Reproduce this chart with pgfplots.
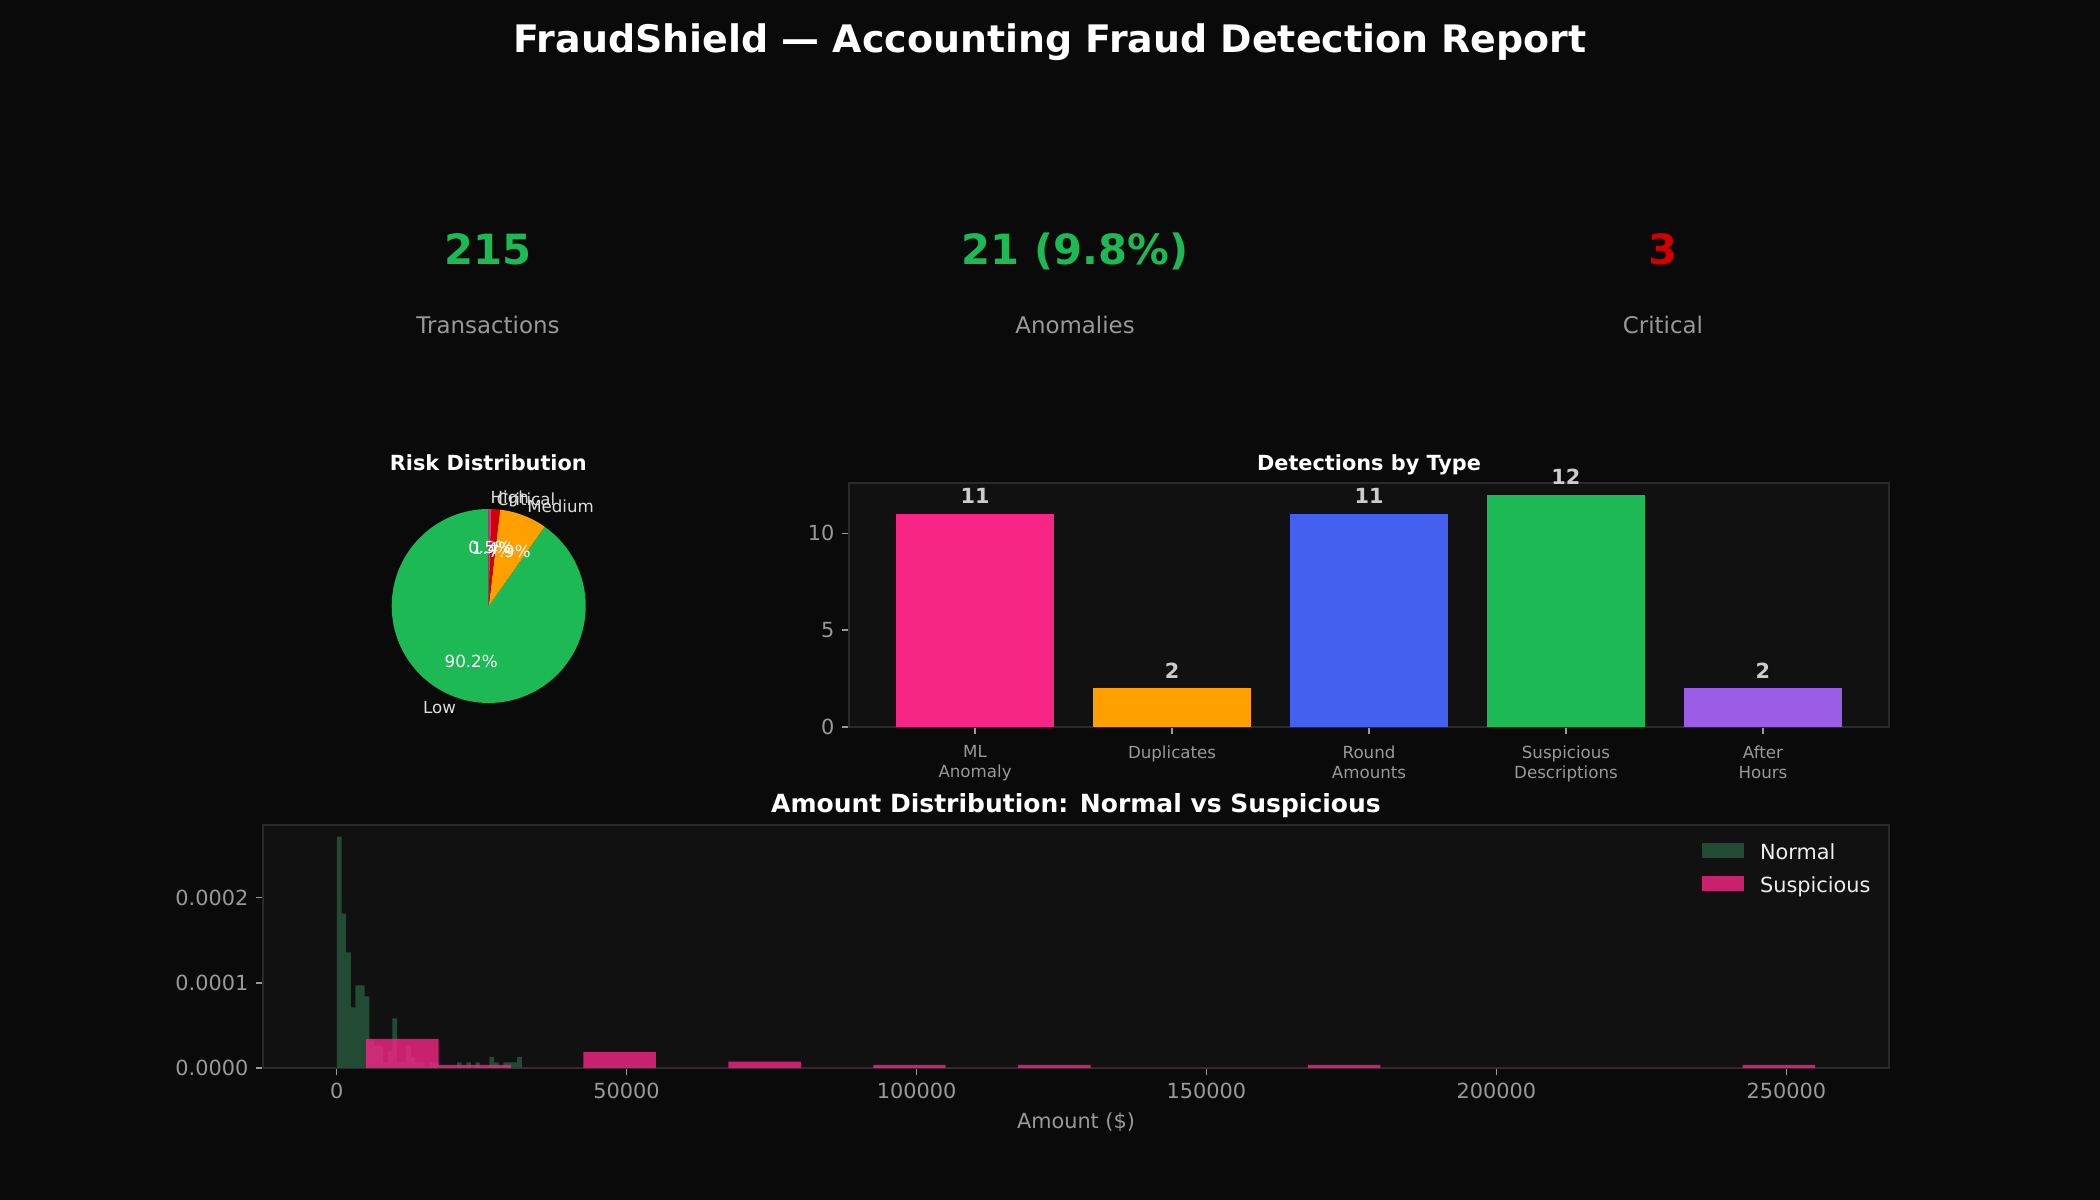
\documentclass[border=0pt]{standalone}
\usepackage{fontspec}
\setmainfont{DejaVu Sans}
\usepackage{pgfplots}
\pgfplotsset{compat=1.18}
\definecolor{figbg}{HTML}{0A0A0A}
\definecolor{axbg}{HTML}{111111}
\definecolor{spine}{HTML}{2A2A2A}
\definecolor{tickc}{HTML}{999999}
\definecolor{cgreen}{HTML}{1DB954}
\definecolor{cred}{HTML}{D00000}
\definecolor{cpink}{HTML}{F72585}
\definecolor{corange}{HTML}{FF9F00}
\definecolor{cblue}{HTML}{4361EE}
\definecolor{cpurple}{HTML}{9B5DE5}
\definecolor{nrmgreen}{HTML}{224B36}
\definecolor{vallab}{HTML}{CCCCCC}
\definecolor{pielab}{HTML}{DDDDDD}
\definecolor{legtext}{HTML}{EEEEEE}
\newcommand\fs[2]{\fontsize{#1bp}{#2bp}\selectfont}

\pgfplotsset{
  darkax/.style={
    scale only axis,
    anchor=south west,
    axis background/.style={fill=axbg},
    axis line style={draw=spine, line width=0.8bp},
    tick align=outside,
    tick pos=left,
    major tick length=3.5bp,
    every tick/.style={draw=tickc, line width=0.8bp},
    tick label style={font=\fs{10}{12}, text=tickc},
    /pgf/number format/assume math mode=true,
    /pgf/number format/1000 sep={},
    title style={at={(0.5,1)}, anchor=base, inner sep=0pt, font=\fs{10}{12}\bfseries, text=white},
  }
}

% Histogram data: left bin edges and density (last row closes the interval)
\pgfplotstableread{
x        y
45       2.7161e-4
842.1    1.8107e-4
1639.2   1.3580e-4
2436.3   7.113e-5
3233.4   9.700e-5
4030.5   9.700e-5
4827.6   8.407e-5
5624.7   3.233e-5
6421.8   2.587e-5
7218.9   2.587e-5
8016     6.467e-6
8813.1   1.940e-5
9610.2   5.820e-5
10407.3  6.467e-6
11204.4  6.467e-6
12001.5  2.587e-5
12798.6  1.293e-5
13595.7  6.467e-6
14392.8  6.467e-6
15189.9  0
15987    6.467e-6
16784.1  6.467e-6
17581.2  0
18378.3  0
19175.4  0
19972.5  0
20769.6  6.467e-6
21566.7  0
22363.8  6.467e-6
23160.9  0
23958    6.467e-6
24755.1  0
25552.2  0
26349.3  1.293e-5
27146.4  6.467e-6
27943.5  0
28740.6  6.467e-6
29537.7  6.467e-6
30334.8  6.467e-6
31131.9  1.293e-5
31929    0
}\normaltab
\pgfplotstableread{
x        y
5080     3.4302e-5
17574    3.811e-6
30068    0
42562    1.9057e-5
55056    0
67550    7.623e-6
80044    0
92538    3.811e-6
105032   0
117526   3.811e-6
130020   0
142514   0
155008   0
167502   3.811e-6
179996   0
192490   0
204984   0
217478   0
229972   0
242466   3.811e-6
254960   0
}\susptab

\begin{document}
\begin{tikzpicture}
\fill[figbg] (0,0) rectangle (1008bp,576bp);
\useasboundingbox (0,0) rectangle (1008bp,576bp);

% main title
\node[anchor=base, inner sep=0pt, text=white, font=\fs{18.2}{21.8}\bfseries] at (504bp,550.56bp) {FraudShield — Accounting Fraud Detection Report};

% KPIs
\node[anchor=base, inner sep=0pt, text=cgreen, font=\fs{20}{24}\bfseries] at (234.24bp,448.8bp) {215};
\node[anchor=base, inner sep=0pt, text=cgreen, font=\fs{20}{24}\bfseries] at (516bp,448.8bp) {21 (9.8\%)};
\node[anchor=base, inner sep=0pt, text=cred, font=\fs{20}{24}\bfseries] at (798.24bp,448.8bp) {3};
\node[anchor=base, inner sep=0pt, text=tickc, font=\fs{11}{13.2}] at (234.24bp,416bp) {Transactions};
\node[anchor=base, inner sep=0pt, text=tickc, font=\fs{11}{13.2}] at (516bp,416bp) {Anomalies};
\node[anchor=base, inner sep=0pt, text=tickc, font=\fs{11}{13.2}] at (798.24bp,416bp) {Critical};

% Pie: Low 194, Medium 17, Critical 3, High 1 (counterclockwise from 90 deg)
\def\pcx{234.58bp}\def\pcy{285.12bp}\def\pr{46.56bp}
\pgfmathsetmacro\tot{194+17+3+1}
\pgfmathsetmacro\unit{360/\tot}
\pgfmathsetmacro\aA{90}
\pgfmathsetmacro\aB{\aA+\unit*194}
\pgfmathsetmacro\aC{\aB+\unit*17}
\pgfmathsetmacro\aD{\aC+\unit*3}
\pgfmathsetmacro\aE{\aD+\unit*1}
\pgfmathsetmacro\mA{(\aA+\aB)/2}
\pgfmathsetmacro\mB{(\aB+\aC)/2}
\pgfmathsetmacro\mC{(\aC+\aD)/2}
\pgfmathsetmacro\mD{(\aD+\aE)/2}
\fill[cgreen] (\pcx,\pcy) -- ++(\aA:\pr) arc[start angle=\aA, end angle=\aB, radius=\pr] -- cycle;
\fill[corange] (\pcx,\pcy) -- ++(\aB:\pr) arc[start angle=\aB, end angle=\aC, radius=\pr] -- cycle;
\fill[cred] (\pcx,\pcy) -- ++(\aC:\pr) arc[start angle=\aC, end angle=\aD, radius=\pr] -- cycle;
\fill[cpink] (\pcx,\pcy) -- ++(\aD:\pr) arc[start angle=\aD, end angle=\aE, radius=\pr] -- cycle;
\path (\pcx,\pcy) ++(\mA:51.22bp) node[anchor=east, inner sep=0pt, text=pielab, font=\fs{8}{9.6}] {Low};
\path (\pcx,\pcy) ++(\mA:27.94bp) node[inner sep=0pt, text=white, font=\fs{8}{9.6}] {90.2\%};
\path (\pcx,\pcy) ++(\mB:51.22bp) node[anchor=west, inner sep=0pt, text=pielab, font=\fs{8}{9.6}] {Medium};
\path (\pcx,\pcy) ++(\mB:27.94bp) node[inner sep=0pt, text=white, font=\fs{8}{9.6}] {7.9\%};
\path (\pcx,\pcy) ++(\mC:51.22bp) node[anchor=west, inner sep=0pt, text=pielab, font=\fs{8}{9.6}] {Critical};
\path (\pcx,\pcy) ++(\mC:27.94bp) node[inner sep=0pt, text=white, font=\fs{8}{9.6}] {1.4\%};
\path (\pcx,\pcy) ++(\mD:51.22bp) node[anchor=west, inner sep=0pt, text=pielab, font=\fs{8}{9.6}] {High};
\path (\pcx,\pcy) ++(\mD:27.94bp) node[inner sep=0pt, text=white, font=\fs{8}{9.6}] {0.5\%};
\node[anchor=base, inner sep=0pt, text=white, font=\fs{10}{12}\bfseries] at (234.4bp,349.92bp) {Risk Distribution};

% Bar chart
\begin{axis}[darkax, at={(407.52bp,227.04bp)}, width=499.2bp, height=117.12bp,
  xmin=-0.64, xmax=4.64, ymin=0, ymax=12.6,
  xtick={0,1,2,3,4},
  xticklabels={{ML\\Anomaly},{Duplicates},{Round\\Amounts},{Suspicious\\Descriptions},{After\\Hours}},
  xticklabel style={align=center, font=\fs{8}{9.6}, text=tickc, yshift=-2bp},
  ytick={0,5,10},
  title={Detections by Type},
  every node near coord/.append style={anchor=base, yshift=4.8bp, inner sep=0pt, font=\fs{10}{12}\bfseries, text=vallab},
]
\addplot[ybar, bar width=0.8, bar shift=0, fill=cpink, draw=none, nodes near coords] coordinates {(0,11)};
\addplot[ybar, bar width=0.8, bar shift=0, fill=corange, draw=none, nodes near coords] coordinates {(1,2)};
\addplot[ybar, bar width=0.8, bar shift=0, fill=cblue, draw=none, nodes near coords] coordinates {(2,11)};
\addplot[ybar, bar width=0.8, bar shift=0, fill=cgreen, draw=none, nodes near coords] coordinates {(3,12)};
\addplot[ybar, bar width=0.8, bar shift=0, fill=cpurple, draw=none, nodes near coords] coordinates {(4,2)};
\end{axis}

% Histogram
\begin{axis}[darkax, at={(126.24bp,63.36bp)}, width=780.48bp, height=116.64bp,
  xmin=-12700, xmax=267700, ymin=0, ymax=2.852e-4,
  xtick={0,50000,100000,150000,200000,250000},
  ytick={0,0.0001,0.0002},
  scaled x ticks=false, scaled y ticks=false,
  x tick label as interval=false,
  xticklabel style={/pgf/number format/fixed, /pgf/number format/precision=0},
  yticklabel style={/pgf/number format/fixed, /pgf/number format/fixed zerofill, /pgf/number format/precision=4},
  xlabel={Amount (\$)},
  xlabel style={font=\fs{10}{12}, text=tickc},
  title={Amount Distribution: Normal vs Suspicious},
  title style={font=\fs{12}{14.4}\bfseries},
  legend style={at={(0.885,0.925)}, anchor=north west, draw=none, fill=none, inner sep=0pt, outer sep=0pt,
    row sep=6.6bp, column sep=7.7bp, font=\fs{10}{12}, text=legtext, nodes={inner sep=0pt}},
  legend cell align=left,
  legend image code/.code={\fill[#1] (0bp,-2.4bp) rectangle (20.16bp,4.7bp);},
]
\addplot[ybar interval, fill=nrmgreen, draw=none] table[x=x, y=y] {\normaltab};
\addlegendentry{Normal}
\addplot[ybar interval, fill=cpink, fill opacity=0.8, draw=none] table[x=x, y=y] {\susptab};
\addlegendentry{Suspicious}
\end{axis}
\end{tikzpicture}
\end{document}
